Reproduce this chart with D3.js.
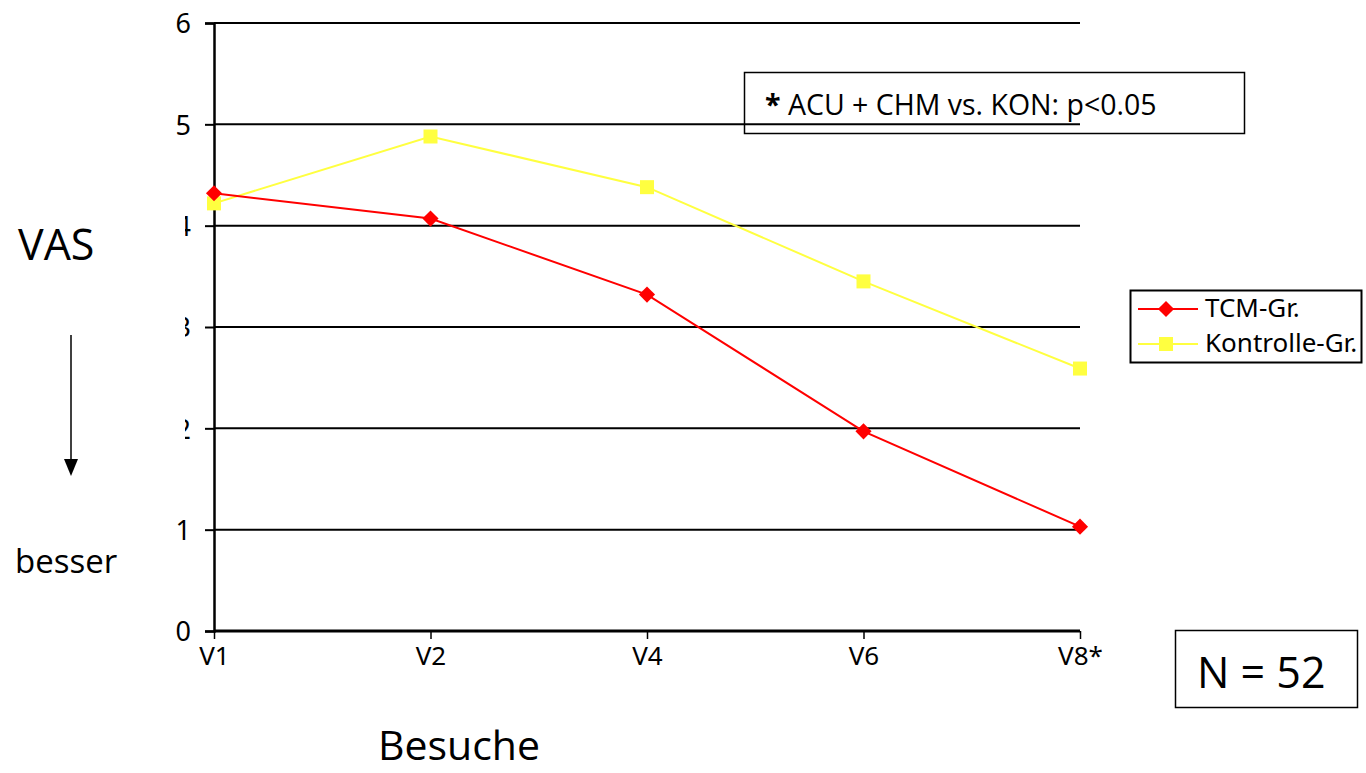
<!DOCTYPE html>
<html><head><meta charset="utf-8">
<script src="https://cdn.jsdelivr.net/npm/d3@7"></script>
<style>
html,body{margin:0;padding:0;background:#fff;}
svg{display:block;}
</style></head>
<body>
<svg id="c" width="1366" height="773"></svg>
<script>
const categories = ["V1","V2","V4","V6","V8*"];
const tcmValues = [4.32, 4.07, 3.32, 1.97, 1.03];
const konValues = [4.22, 4.88, 4.38, 3.45, 2.59];
const yTicks = [0,1,2,3,4,5,6];
const seriesNames = ["TCM-Gr.","Kontrolle-Gr."];

(function(){
const svg = d3.select("#c");
const mLeft = 214, mRight = 1080, mTop = 23, mBottom = 631;

const x = d3.scalePoint().domain(categories).range([mLeft, mRight]);
const y = d3.scaleLinear().domain([0,6]).range([mBottom, mTop]);

const tickFont = "'Noto Sans', 'DejaVu Sans', sans-serif";
const calFont = "'Open Sans', 'Noto Sans', sans-serif";

const defs = svg.append("defs");
// clip in tick-local coordinates: only the right sliver of labels 2,3,4 shows
defs.append("clipPath").attr("id","clipLab").append("rect")
  .attr("x",-29).attr("y",-40).attr("width",60).attr("height",80);

// annotation box (behind gridlines)
svg.append("rect").attr("x",744.5).attr("y",72.5).attr("width",500).attr("height",61)
  .attr("fill","#fff").attr("stroke","#000").attr("stroke-width",1.5);
const ann = svg.append("text").attr("x",765).attr("y",115).attr("font-family",calFont)
  .attr("font-size",28.5).attr("fill","#000");
ann.append("tspan").attr("font-weight","bold").text("*");
ann.append("tspan").text(" ACU + CHM vs. KON: p<0.05");

// gridlines
svg.append("g").selectAll("line").data(yTicks.filter(d=>d>0)).join("line")
  .attr("x1",mLeft).attr("x2",mRight).attr("y1",d=>y(d)).attr("y2",d=>y(d))
  .attr("stroke","#000").attr("stroke-width",2);

// y axis
const yAxis = svg.append("g").attr("transform",`translate(${mLeft},0)`)
  .call(d3.axisLeft(y).tickValues(yTicks).tickSize(9).tickPadding(14).tickFormat(d3.format("d")));
yAxis.select(".domain").attr("stroke-width",2.5);
yAxis.selectAll(".tick line").attr("stroke-width",2);
yAxis.selectAll("text").attr("font-family",tickFont).attr("font-size",27).attr("fill","#000").attr("dy","0.36em");
yAxis.selectAll(".tick").filter(d=>d>=2 && d<=4).select("text").attr("clip-path","url(#clipLab)");

// x axis
const xAxis = svg.append("g").attr("transform",`translate(0,${mBottom})`)
  .call(d3.axisBottom(x).tickSize(8).tickPadding(10));
xAxis.select(".domain").attr("stroke-width",3).attr("d",`M${mLeft},0H${mRight}`);
xAxis.selectAll(".tick line").attr("stroke-width",1.5);
xAxis.selectAll("text").attr("font-family",tickFont).attr("font-size",26).attr("fill","#000").attr("dy","0.62em");

// lines
const line = d3.line().x((d,i)=>x(categories[i])).y(d=>y(d));
svg.append("path").datum(konValues).attr("d",line).attr("fill","none").attr("stroke","#ffff40").attr("stroke-width",2);
svg.append("path").datum(tcmValues).attr("d",line).attr("fill","none").attr("stroke","#ff0000").attr("stroke-width",2);

const sqSize = 14;
svg.append("g").selectAll("rect").data(konValues).join("rect")
  .attr("x",(d,i)=>x(categories[i])-sqSize/2).attr("y",d=>y(d)-sqSize/2)
  .attr("width",sqSize).attr("height",sqSize).attr("fill","#ffff40");
const diamond = d3.symbol().type(d3.symbolSquare).size(130);
svg.append("g").selectAll("path").data(tcmValues).join("path")
  .attr("d",diamond).attr("transform",(d,i)=>`translate(${x(categories[i])},${y(d)}) rotate(45)`)
  .attr("fill","#ff0000");

// legend
const lg = svg.append("g");
lg.append("rect").attr("x",1130.5).attr("y",290.5).attr("width",231).attr("height",72)
  .attr("fill","#fff").attr("stroke","#000").attr("stroke-width",2);
const legY = [309, 344];
const colors = ["#ff0000","#ffff40"];
seriesNames.forEach((n,i)=>{
  lg.append("line").attr("x1",1138).attr("x2",1198).attr("y1",legY[i]).attr("y2",legY[i])
    .attr("stroke",colors[i]).attr("stroke-width",2);
  if(i===0){
    lg.append("path").attr("d",diamond).attr("transform",`translate(1166,${legY[i]}) rotate(45)`).attr("fill",colors[i]);
  } else {
    lg.append("rect").attr("x",1166-sqSize/2).attr("y",legY[i]-sqSize/2).attr("width",sqSize).attr("height",sqSize).attr("fill",colors[i]);
  }
  lg.append("text").attr("x",1205).attr("y",legY[i]+7.5).attr("font-family",tickFont)
    .attr("font-size",26).attr("fill","#000").text(n);
});

// left labels
svg.append("text").attr("x",18).attr("y",260).attr("font-family",calFont).attr("font-size",43).attr("fill","#000").text("VAS");
svg.append("line").attr("x1",71).attr("y1",335).attr("x2",71).attr("y2",462)
  .attr("stroke","#000").attr("stroke-width",1.5);
svg.append("path").attr("d","M64,459L78,459L71,476Z").attr("fill","#000");
svg.append("text").attr("x",15).attr("y",573).attr("font-family",calFont).attr("font-size",33).attr("fill","#000").text("besser");

// x title
svg.append("text").attr("x",378).attr("y",760).attr("font-family",calFont).attr("font-size",41).attr("fill","#000").text("Besuche");

// N box
svg.append("rect").attr("x",1175.5).attr("y",630.5).attr("width",182).attr("height",77)
  .attr("fill","#fff").attr("stroke","#000").attr("stroke-width",1.5);
svg.append("text").attr("x",1197).attr("y",688).attr("font-family",calFont).attr("font-size",43).attr("fill","#000").text("N = 52");
})();
</script>
</body></html>
